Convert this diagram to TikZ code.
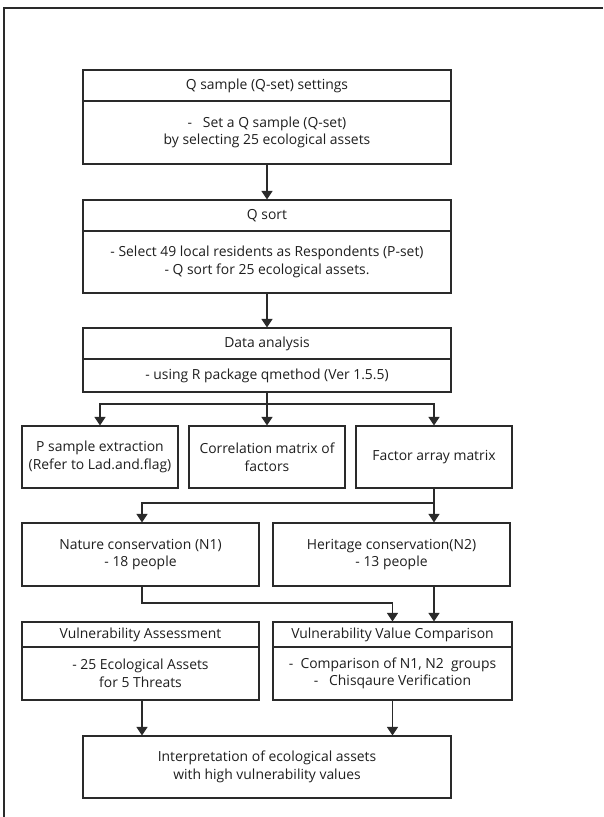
\documentclass[tikz,border=0pt]{standalone}
\usepackage{fontspec}
\setmainfont{Open Sans}
\usetikzlibrary{arrows.meta}
\definecolor{ln}{HTML}{2A2A2A}
\definecolor{tx}{HTML}{1E1E1E}
\tikzset{
  cell/.style={draw=ln, line width=1.2pt, inner sep=0pt, align=center, text=tx,
    font=\fontsize{13.9}{17.5}\selectfont},
  arr/.style={draw=ln, line width=1.2pt, -{Triangle[width=11pt,length=8.5pt]}},
  conn/.style={draw=ln, line width=1.2pt},
}
\begin{document}
\begin{tikzpicture}[x=1pt,y=-1pt]
\useasboundingbox (0,0) rectangle (603,817);
\draw[ln, line width=1.6pt] (4,817) -- (4,8) -- (603,8);

% box 1
\node[cell, minimum width=368pt, minimum height=31pt] (b1h) at (267,85.5) {Q sample (Q-set) settings};
\node[cell, minimum width=368pt, minimum height=63pt] (b1b) at (267,132.5) {-\ \ \ Set a Q sample (Q-set)\\by selecting 25 ecological assets};
% box 2
\node[cell, minimum width=368pt, minimum height=31pt] (b2h) at (267,215.5) {Q sort};
\node[cell, minimum width=368pt, minimum height=62pt] (b2b) at (267,262) {- Select 49 local residents as Respondents (P-set)\\- Q sort for 25 ecological assets.};
% box 3
\node[cell, minimum width=368pt, minimum height=31pt] (b3h) at (267,343.5) {Data analysis};
\node[cell, minimum width=368pt, minimum height=33pt] (b3b) at (267,375.5) {- using R package qmethod (Ver 1.5.5)};
% row of three
\node[cell, minimum width=156pt, minimum height=62pt] (pa) at (100,457) {P sample extraction\\(Refer to Lad.and.flag)};
\node[cell, minimum width=156pt, minimum height=62pt] (pb) at (267,457) {Correlation matrix of\\factors};
\node[cell, minimum width=156pt, minimum height=62pt] (pc) at (434,457) {Factor array matrix};
% N1 N2
\node[cell, minimum width=237pt, minimum height=63pt] (n1) at (140.5,554.5) {Nature conservation (N1)\\- 18 people};
\node[cell, minimum width=237pt, minimum height=63pt] (n2) at (391.5,554.5) {Heritage conservation(N2)\\- 13 people};
% VA and VVC
\node[cell, minimum width=237pt, minimum height=25pt] (vah) at (140.5,634.5) {Vulnerability Assessment};
\node[cell, minimum width=237pt, minimum height=53pt] (vab) at (140.5,673.5) {- 25 Ecological Assets\\for 5 Threats};
\node[cell, minimum width=239pt, minimum height=25pt] (vch) at (392.5,634.5) {Vulnerability Value Comparison};
\node[cell, minimum width=239pt, minimum height=53pt] (vcb) at (392.5,673.5) {-\ \ Comparison of N1, N2\ \ groups\\-\ \ \ Chisqaure Verification};
% final
\node[cell, minimum width=368pt, minimum height=62pt] (fin) at (267,767) {Interpretation of ecological assets\\with high vulnerability values};

% connectors
\draw[arr] (b1b.south) -- (b2h.north);
\draw[arr] (b2b.south) -- (b3h.north);
\coordinate (br) at (267,404);
\draw[conn] (b3b.south) -- (br);
\draw[arr] (br) -| (pa.north);
\draw[arr] (br) -- (pb.north);
\draw[arr] (br) -| (pc.north);
\coordinate (br2) at (434,503);
\draw[arr] (pc.south) -- (br2) -| ([xshift=1.5pt]n1.north);
\draw[arr] (br2) -- (br2 |- n2.north);
\coordinate (br3) at (142,603);
\draw[arr] ([xshift=1.5pt]n1.south) -- (br3) -| (vch.north);
\draw[arr] (br2 |- n2.south) -- (br2 |- vch.north);
\draw[arr] ([xshift=1.5pt]vab.south) -- ([xshift=1.5pt]vab.south |- fin.north);
\draw[arr] (vcb.south) -- (vcb.south |- fin.north);
\end{tikzpicture}
\end{document}
